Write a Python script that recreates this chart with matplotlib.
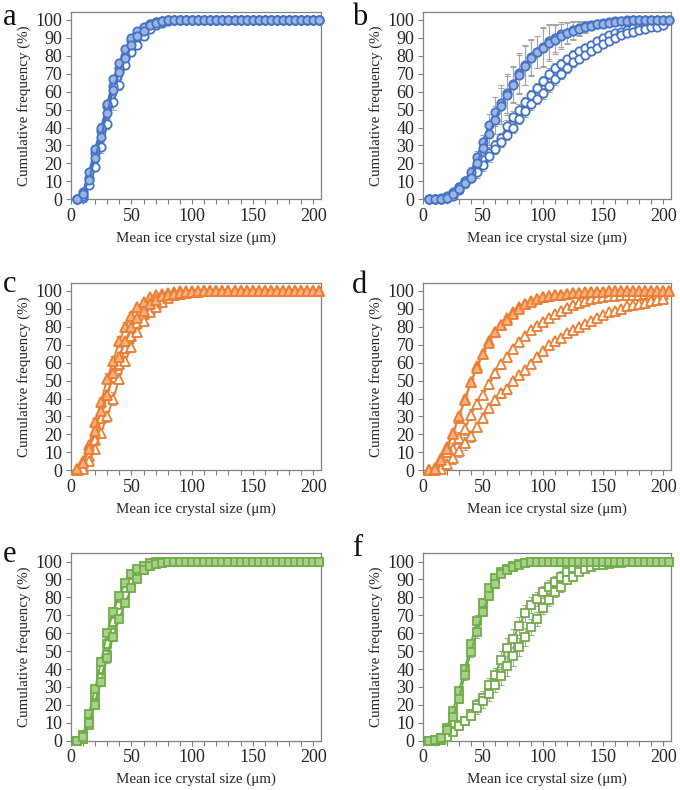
import numpy as np
import matplotlib
matplotlib.use('Agg')
import matplotlib.pyplot as plt
from matplotlib.ticker import MultipleLocator

plt.rcParams['font.family'] = ['Liberation Serif', 'DejaVu Serif']

# tamaño medio de cristal (µm), 5..205
size_um = np.arange(5, 210, 5)
nan = np.nan

# ---- panel a (azul, círculos) ----
a_fill1 = [0, 4, 15, 28, 40, 53, 67, 76, 84, 90,
           94, 96, 98, 99, 99.5, 100, 100, 100, 100, 100,
           100, 100, 100, 100, 100, 100, 100, 100, 100, 100,
           100, 100, 100, 100, 100, 100, 100, 100, 100, 100,
           100]
a_fill2 = [0, 3, 11, 23, 35, 48, 61, 71, 79, 86,
           91, 94, 97, 98.5, 99.3, 99.7, 100, 100, 100, 100,
           100, 100, 100, 100, 100, 100, 100, 100, 100, 100,
           100, 100, 100, 100, 100, 100, 100, 100, 100, 100,
           100]
a_open1 = [0, 1, 8, 18, 29, 42, 54, 64, 75, 82,
           86, 91, 95, 97, 98.5, 99.3, 99.7, 100, 100, 100,
           100, 100, 100, 100, 100, 100, 100, 100, 100, 100,
           100, 100, 100, 100, 100, 100, 100, 100, 100, 100,
           100]
a_open2 = [0, 2, 12, 26, 38, 52, 63, 73, 80, 88,
           92, 95, 97.5, 99, 99.5, 100, 100, 100, 100, 100,
           100, 100, 100, 100, 100, 100, 100, 100, 100, 100,
           100, 100, 100, 100, 100, 100, 100, 100, 100, 100,
           100]
a_err_fill = [0, 0.5, 1.5, 2, 2.5, 2.5, 2.5, 2.5, 2, 1.5,
              1.5, 1, 0.8, 0.5, 0.3, 0, 0, 0, 0, 0,
              0, 0, 0, 0, 0, 0, 0, 0, 0, 0,
              0, 0, 0, 0, 0, 0, 0, 0, 0, 0,
              0]
a_err_open = [0, 0.5, 1.5, 2, 3, 3, 4, 3, 2.5, 2,
              2, 1.5, 1, 0.5, 0.3, 0.2, 0, 0, 0, 0,
              0, 0, 0, 0, 0, 0, 0, 0, 0, 0,
              0, 0, 0, 0, 0, 0, 0, 0, 0, 0,
              0]

# ---- panel b ----
b_fill1 = [0, 0, 0.6, 2, 4, 7, 10, 15.4, 23.8, 32,
           41.4, 48.9, 53.5, 59, 64.3, 70.3, 74.9, 79.5, 82.3, 85.1,
           88, 90, 92, 93, 94.5, 95.5, 96.5, 97, 98, 98.5,
           99, 99.3, 99.5, 99.7, 99.8, 99.9, 100, 100, 100, 100,
           100]
b_fill2 = [0, 0, 0.3, 1, 3, 6, 9, 12, 20, 28.4,
           36.4, 44.2, 52, 58, 63.5, 69.5, 74.5, 79, 82, 84.5,
           87, 89, 91, 92.5, 94, 95, 96, 96.8, 97.5, 98,
           98.5, 99, 99.3, 99.5, 99.7, 99.8, 99.9, 100, 100, 100,
           100]
b_open1 = [0, 0, 0, 1, 3, 7, 10, 13, 17, 22,
           26, 30, 34, 41, 46, 50, 54, 58, 62, 66,
           70, 73, 75.5, 78, 80.5, 82.5, 84.5, 86, 88, 90,
           91.5, 92.5, 93.5, 94.5, 95.5, 96, 96.5, 97, 97.5, 98,
           nan]
b_open2 = [0, 0, 0, 1, 2, 5, 9, 12, 15, 19,
           24, 28, 32, 36, 40, 45, 49, 53, 56, 59,
           63, 67, 70, 73, 76.5, 78.5, 80.5, 82.5, 84.5, 86.5,
           88, 90, 91.5, 92.5, 93.5, 94.5, 95, 95.8, 96.3, 97,
           nan]
b_err_fill = [0, 0, 0.5, 1, 1.5, 2, 2.5, 2.5, 3, 4,
              6, 8, 10, 11, 10, 11, 11, 10, 9, 11,
              10, 8, 7, 6, 5, 4, 3, 2.5, 2, 1.5,
              1, 1, 0.8, 0.6, 0.5, 0.4, 0.3, 0.2, 0.1, 0,
              0]
b_err_open = [0, 0, 0.3, 0.8, 1.5, 2, 2, 2.5, 3, 3,
              3, 3, 3, 3, 3, 3, 3, 3, 3, 3,
              3, 3, 3, 2.5, 2.5, 2, 2, 2, 2, 1.5,
              1.5, 1.5, 1, 1, 1, 1, 1, 1, 1, 1,
              0]

# ---- panel c (naranja, triángulos) ----
c_fill1 = [1, 5, 14, 27, 38, 51, 61, 72, 80, 86,
           91, 94, 96.5, 97.5, 98.5, 99, 99.5, 99.7, 100, 100,
           100, 100, 100, 100, 100, 100, 100, 100, 100, 100,
           100, 100, 100, 100, 100, 100, 100, 100, 100, 100,
           100]
c_fill2 = [0.5, 4, 12, 22, 33, 42, 54, 63, 72, 80,
           85, 89, 93, 95, 97, 98, 98.5, 99, 99.4, 99.6,
           99.8, 100, 100, 100, 100, 100, 100, 100, 100, 100,
           100, 100, 100, 100, 100, 100, 100, 100, 100, 100,
           100]
c_open1 = [0, 2, 8, 17, 29, 42, 52, 59, 68, 75,
           82, 87, 90, 93, 95.5, 97, 98, 98.5, 99, 99.3,
           99.6, 99.8, 100, 100, 100, 100, 100, 100, 100, 100,
           100, 100, 100, 100, 100, 100, 100, 100, 100, 100,
           100]
c_open2 = [0, 1, 5, 12, 21, 30, 40, 51, 61, 69,
           77, 83, 88, 91, 94, 96, 97.5, 98.3, 98.8, 99.2,
           99.5, 99.7, 99.8, 99.9, 100, 100, 100, 100, 100, 100,
           100, 100, 100, 100, 100, 100, 100, 100, 100, 100,
           100]
c_err_fill = [0.5, 1, 1.5, 2, 2.5, 3, 3, 3, 2.5, 2,
              1.5, 1.5, 1, 0.8, 0.5, 0.4, 0.3, 0.2, 0.1, 0,
              0, 0, 0, 0, 0, 0, 0, 0, 0, 0,
              0, 0, 0, 0, 0, 0, 0, 0, 0, 0,
              0]
c_err_open = [0.3, 1, 1.5, 2, 2.5, 3, 3.5, 3, 2.5, 2,
              2, 1.5, 1, 1, 0.8, 0.6, 0.5, 0.4, 0.3, 0.2,
              0.2, 0.1, 0, 0, 0, 0, 0, 0, 0, 0,
              0, 0, 0, 0, 0, 0, 0, 0, 0, 0,
              0]

# ---- panel d ----
d_fill1 = [0, 1.5, 7, 13, 21, 29, 40, 49, 58, 65,
           72, 77, 81, 85, 88, 91, 93, 94.5, 95.5, 96.5,
           97, 97.5, 98, 98.3, 98.6, 98.9, 99.1, 99.3, 99.5, 99.6,
           99.7, 99.8, 99.9, 100, 100, 100, 100, 100, 100, 100,
           100]
d_fill2 = [0, 1, 6, 12, 20, 30, 39, 49, 57, 65,
           71, 77, 81, 84, 87, 90, 92.5, 94, 95.5, 96.5,
           97, 97.5, 98, 98.5, 98.8, 99, 99.2, 99.4, 99.5, 99.6,
           99.7, 99.8, 99.9, 100, 100, 100, 100, 100, 100, 100,
           100]
d_open1 = [0, 0.5, 3, 10, 12, 18, 23, 31, 37, 42,
           48, 54, 59, 63, 67.5, 71.5, 75, 78, 80.5, 82.5,
           85, 87, 89, 90.5, 92, 93.5, 94.5, 95.5, 96, 96.5,
           97, 97.3, 97.5, 97.7, 97.9, 98, 98.2, 98.3, 98.4, 98.5,
           nan]
d_open2 = [0, 0, 1, 3.5, 7, 11, 15, 19, 24.3, 29.3,
           35, 39, 43, 45.6, 49.7, 53, 56, 59.5, 63.3, 66.4,
           70, 72, 74, 76.5, 78, 80, 81.5, 83.5, 85, 86.5,
           88, 89, 90, 91.5, 92, 93, 93.5, 94.5, 95, 95.5,
           nan]
d_err_fill = [0, 0.5, 1, 1.5, 2, 2, 2, 2, 1.5, 1.5,
              1.5, 1.2, 1, 1, 0.8, 0.6, 0.5, 0.4, 0.3, 0.3,
              0.2, 0.2, 0.2, 0.1, 0.1, 0.1, 0, 0, 0, 0,
              0, 0, 0, 0, 0, 0, 0, 0, 0, 0,
              0]
d_err_open = [0, 0.5, 1.5, 2.5, 3.5, 3.5, 3.5, 3, 2.5, 2.5,
              2.5, 2.5, 2.5, 2, 2, 2, 1.5, 1.5, 1.5, 1.5,
              1.5, 1.5, 1.5, 1.2, 1.2, 1, 1, 1, 1, 0.8,
              0.8, 0.8, 0.6, 0.6, 0.5, 0.5, 0.5, 0.5, 0.5, 0.5,
              0]

# ---- panel e (verde, cuadrados) ----
e_fill1 = [0, 3, 15, 29, 44, 60, 72, 81, 88, 93,
           96, 97.5, 99, 99.5, 99.8, 100, 100, 100, 100, 100,
           100, 100, 100, 100, 100, 100, 100, 100, 100, 100,
           100, 100, 100, 100, 100, 100, 100, 100, 100, 100,
           100]
e_fill2 = [0, 2, 10, 20, 33, 46, 58, 68, 77, 85,
           90, 95, 97.5, 98.5, 99.3, 99.7, 100, 100, 100, 100,
           100, 100, 100, 100, 100, 100, 100, 100, 100, 100,
           100, 100, 100, 100, 100, 100, 100, 100, 100, 100,
           100]
e_open1 = [0, 1, 11, 25, 40, 54, 66, 75, 84, 89,
           94, 96.5, 98, 99, 99.5, 99.8, 100, 100, 100, 100,
           100, 100, 100, 100, 100, 100, 100, 100, 100, 100,
           100, 100, 100, 100, 100, 100, 100, 100, 100, 100,
           100]
e_open2 = [0, 1, 9, 21, 35, 48, 60, 71, 81, 88,
           92, 95.5, 97.5, 98.5, 99.2, 99.6, 99.8, 100, 100, 100,
           100, 100, 100, 100, 100, 100, 100, 100, 100, 100,
           100, 100, 100, 100, 100, 100, 100, 100, 100, 100,
           100]
e_err_fill = [0, 0.5, 1.5, 2, 2.5, 2.5, 2.5, 2, 2, 1.5,
              1, 1, 0.5, 0.3, 0.2, 0, 0, 0, 0, 0,
              0, 0, 0, 0, 0, 0, 0, 0, 0, 0,
              0, 0, 0, 0, 0, 0, 0, 0, 0, 0,
              0]
e_err_open = [0, 0.5, 2, 2.5, 3, 3, 3, 2.5, 2, 1.5,
              1, 1, 0.6, 0.4, 0.2, 0.1, 0, 0, 0, 0,
              0, 0, 0, 0, 0, 0, 0, 0, 0, 0,
              0, 0, 0, 0, 0, 0, 0, 0, 0, 0,
              0]

# ---- panel f ----
f_fill1 = [0, 0.5, 1.7, 7, 16.6, 27.8, 40, 54, 67, 77,
           85, 91, 94, 96, 97.5, 98.5, 99.3, 99.7, 100, 100,
           100, 100, 100, 100, 100, 100, 100, 100, 100, 100,
           100, 100, 100, 100, 100, 100, 100, 100, 100, 100,
           100]
f_fill2 = [0, 0.3, 1.5, 6, 13.4, 23.3, 36.7, 49.7, 60.6, 72,
           80.8, 87.3, 93, 95.5, 97, 98.3, 99, 99.5, 99.8, 100,
           100, 100, 100, 100, 100, 100, 100, 100, 100, 100,
           100, 100, 100, 100, 100, 100, 100, 100, 100, 100,
           100]
f_open1 = [0, 0, 0.5, 2, 5.5, 8.5, 11, 15, 20, 24,
           31, 36.7, 45, 51.6, 57, 64, 71, 75.8, 79, 83,
           86, 88.8, 91.6, 94, 96.3, 97.8, 98.5, 99, 99.3, 99.5,
           99.6, 99.7, 99.8, 99.9, 100, 100, 100, 100, 100, 100,
           100]
f_open2 = [0, 0, 0.5, 2, 5, 8, 11, 14, 18, 22,
           26, 31, 36, 41.7, 47, 52.5, 58, 63.7, 67.8, 74,
           78.6, 83, 86, 89.8, 91.6, 94.4, 96, 97, 97.8, 98.3,
           98.7, 99, 99.3, 99.5, 99.7, 99.8, 99.9, 100, 100, 100,
           100]
f_err_fill = [0, 0.3, 0.5, 1, 1.5, 2, 3, 3, 3, 2.5,
              2.5, 2, 1.5, 1, 0.8, 0.5, 0.3, 0.2, 0.1, 0,
              0, 0, 0, 0, 0, 0, 0, 0, 0, 0,
              0, 0, 0, 0, 0, 0, 0, 0, 0, 0,
              0]
f_err_open = [0, 0, 0.3, 0.8, 1.5, 2, 2, 2.5, 3, 3.5,
              4, 4, 5, 5.5, 5.5, 5, 5, 4.5, 4, 3.5,
              3.5, 3, 3, 2.5, 2.5, 2, 2, 1.5, 1.5, 1,
              1, 0.8, 0.6, 0.5, 0.4, 0.3, 0.2, 0.1, 0, 0,
              0]

blue = ('#4472C4', '#9DB5E2')
orange = ('#ED7D31', '#F4B183')
green = ('#70AD47', '#A9D18E')
err_col = '#A5A5A5'

panels = [
    ('a', [a_fill1, a_fill2], [a_open1, a_open2], a_err_fill, a_err_open, 'o', 6.0, blue),
    ('b', [b_fill1, b_fill2], [b_open1, b_open2], b_err_fill, b_err_open, 'o', 6.0, blue),
    ('c', [c_fill1, c_fill2], [c_open1, c_open2], c_err_fill, c_err_open, '^', 7.3, orange),
    ('d', [d_fill1, d_fill2], [d_open1, d_open2], d_err_fill, d_err_open, '^', 7.3, orange),
    ('e', [e_fill1, e_fill2], [e_open1, e_open2], e_err_fill, e_err_open, 's', 5.8, green),
    ('f', [f_fill1, f_fill2], [f_open1, f_open2], f_err_fill, f_err_open, 's', 5.8, green),
]

W, H = 680, 790
fig = plt.figure(figsize=(W / 100, H / 100), dpi=100)

# posiciones en píxeles (izq, arriba, der, abajo)
lefts = [(70.7, 320.7), (422.7, 670.7)]
rows = [(11.7, 199.3), (282.7, 470.3), (553.3, 740.7)]
letter_pos = [(3, 25), (352, 25), (3, 292), (352, 293), (3, 562), (352, 556)]

for i, (letter, fills, opens, ef, eo, mk, ms, (lc, fc)) in enumerate(panels):
    r, c = divmod(i, 2)
    x0, x1 = lefts[c]
    y0, y1 = rows[r]
    ax = fig.add_axes([x0 / W, 1 - y1 / H, (x1 - x0) / W, (y1 - y0) / H])

    for y in opens:
        ax.errorbar(size_um, y, yerr=eo, fmt='none', ecolor=err_col,
                    elinewidth=0.8, capsize=2.5, capthick=0.8, zorder=1)
    for y in fills:
        ax.errorbar(size_um, y, yerr=ef, fmt='none', ecolor=err_col,
                    elinewidth=0.8, capsize=2.5, capthick=0.8, zorder=1)
    for y in opens:
        ax.plot(size_um, y, marker=mk, ms=ms, color=lc, mfc='white', mec=lc,
                mew=1.3, lw=1.4, clip_on=False, zorder=3)
    for y in fills:
        ax.plot(size_um, y, marker=mk, ms=ms, color=lc, mfc=fc, mec=lc,
                mew=1.3, lw=1.4, clip_on=False, zorder=4)

    ax.set_xlim(0, 206)
    ax.set_ylim(0, 104.6)
    ax.xaxis.set_major_locator(MultipleLocator(50))
    ax.xaxis.set_minor_locator(MultipleLocator(10))
    ax.yaxis.set_major_locator(MultipleLocator(10))
    ax.tick_params(which='both', direction='out', color='#808080', width=0.8,
                   labelcolor='#262626', labelsize=13, pad=2.5)
    ax.tick_params(which='major', length=3.5)
    ax.tick_params(which='minor', length=3.5)
    for sp in ax.spines.values():
        sp.set_color('#808080')
        sp.set_linewidth(0.9)

    ax.set_ylabel('Cumulative frequency (%)', fontsize=10.8, color='#262626')
    ax.set_xlabel('Mean ice crystal size (μm)', fontsize=10.8, color='#262626')
    ax.yaxis.set_label_coords(-47 / (x1 - x0), 0.5)
    ax.xaxis.set_label_coords(0.5, -39 / (y1 - y0))
    ax.yaxis.label.set_va('center')
    ax.xaxis.label.set_va('center')

    lx, ly = letter_pos[i]
    fig.text(lx / W, 1 - ly / H, letter, fontsize=22, color='#111111',
             ha='left', va='baseline')

fig.savefig('out.png', dpi=100)
